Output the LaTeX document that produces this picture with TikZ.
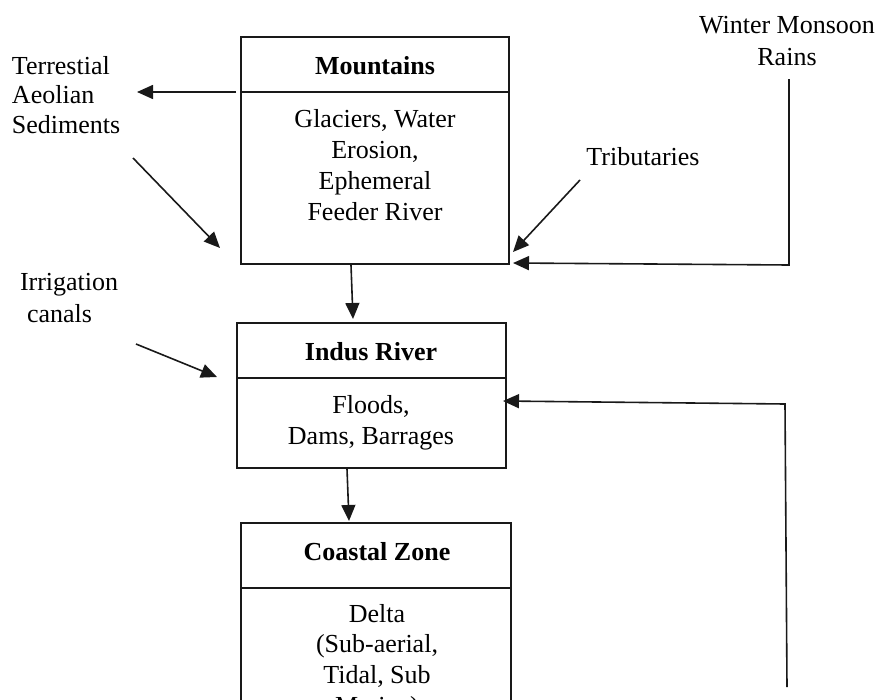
\documentclass[tikz,border=0pt]{standalone}
\usepackage{fontspec}
\setmainfont{Liberation Serif}
\usetikzlibrary{arrows.meta}
% stacked lines whose baseline is the first line's baseline
\newcommand{\lns}[2]{\begin{tabular}[t]{@{}#1@{}}#2\end{tabular}}

\begin{document}
\begin{tikzpicture}[x=1pt,y=-1pt,
  every node/.style={inner sep=0pt, outer sep=0pt},
  txt/.style={font=\fontsize{26}{30.5}\selectfont},
  lbl/.style={txt, anchor=base},
  lblw/.style={txt, anchor=base west},
  title/.style={anchor=base, font=\fontsize{26}{30.5}\selectfont\bfseries},
  frame/.style={draw=black!90, line width=1.5pt, anchor=north west},
  flow/.style={draw=black!90, line width=1.6pt, line join=miter,
               -{Triangle[length=16pt,width=14pt]}},
]
\useasboundingbox (0,0) rectangle (881,699);
\clip (0,0) rectangle (881,699);

% ---------- boxes ----------
\node[frame, minimum width=268pt, minimum height=55pt]  (mtnhead)  at (241,37)  {};
\node[frame, minimum width=268pt, minimum height=172pt] (mtnbody)  at (241,92)  {};
\node[frame, minimum width=269pt, minimum height=55pt]  (indhead)  at (237,323) {};
\node[frame, minimum width=269pt, minimum height=90pt]  (indbody)  at (237,378) {};
\node[frame, minimum width=270pt, minimum height=65pt]  (coshead)  at (241,523) {};
\node[frame, minimum width=270pt, minimum height=180pt] (cosbody)  at (241,588) {};

% ---------- box texts ----------
\node[title] (mtntitle) at (375,74) {Mountains};
\node[lbl, font=\fontsize{26}{31}\selectfont] (mtntext) at (375,127)
  {\lns{c}{Glaciers, Water\\Erosion,\\Ephemeral\\Feeder River}};
\node[title] (indtitle) at (371,360) {Indus River};
\node[lbl, font=\fontsize{26}{31}\selectfont] (indtext) at (371,413)
  {\lns{c}{Floods,\\Dams, Barrages}};
\node[title] (costitle) at (377,560) {Coastal Zone};
\node[lbl] (costext) at (377,622)
  {\lns{c}{Delta\\(Sub-aerial,\\Tidal, Sub\\[1pt]Marine)}};

% ---------- outside labels ----------
\node[lblw, font=\fontsize{26}{29.5}\selectfont] (terr) at (12,74)
  {\lns{l}{Terrestial\\Aeolian\\Sediments}};
\node[lblw] (irr) at (20,290) {\lns{l}{Irrigation\\[1.5pt]\hspace*{7pt}canals}};
\node[lbl] (trib) at (643,165) {Tributaries};
\node[lbl] (rains) at (787,33) {\lns{c}{Winter Monsoon\\[1.5pt]Rains}};

% ---------- connector end points ----------
\coordinate (mtnout)   at (351,265);
\coordinate (indin)    at (353,319);
\coordinate (indout)   at (347,469);
\coordinate (cosin)    at (349,521);
\coordinate (mtnleft)  at (236,92);
\coordinate (terrin)   at (137,92);
\coordinate (terrout)  at (133,158);
\coordinate (mtnlow)   at (220,248);
\coordinate (irrout)   at (136,344);
\coordinate (indleft)  at (217,377);
\coordinate (tribout)  at (580,180);
\coordinate (mtnright) at (513,252);
\coordinate (rainstop) at (789,79);
\coordinate (rainsbend) at (789,265);
\coordinate (mtnfoot)  at (513,263);
\coordinate (retfoot)  at (787,687);
\coordinate (retbend)  at (785,404);
\coordinate (indright) at (503,401);

% ---------- connectors ----------
\draw[flow] (mtnout) -- (indin);
\draw[flow] (indout) -- (cosin);
\draw[flow] (mtnleft) -- (terrin);
\draw[flow] (terrout) -- (mtnlow);
\draw[flow] (irrout) -- (indleft);
\draw[flow] (tribout) -- (mtnright);
\draw[flow] (rainstop) -- (rainsbend) -- (mtnfoot);
\draw[flow] (retfoot) -- (retbend) -- (indright);
\end{tikzpicture}
\end{document}
